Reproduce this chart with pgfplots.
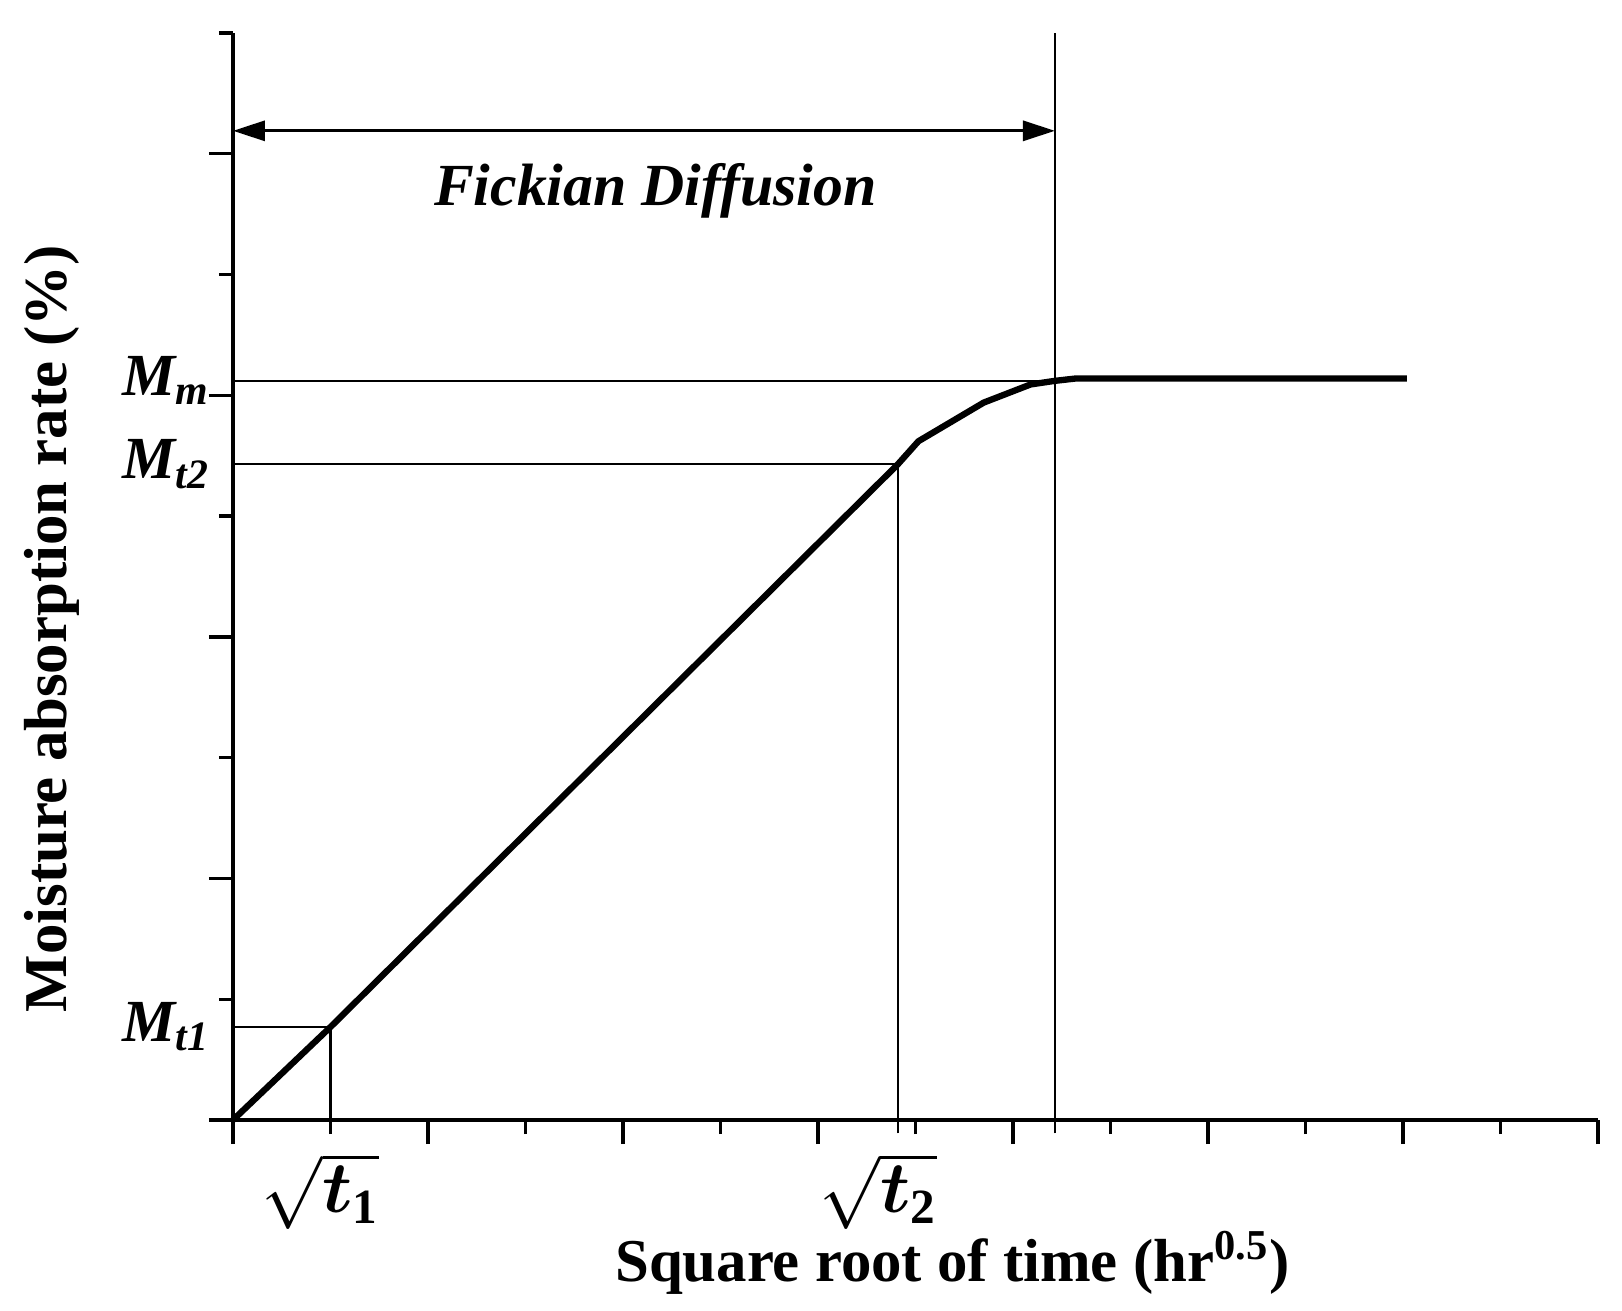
\documentclass[border=0pt]{standalone}
\usepackage{pgfplots}
\pgfplotsset{compat=1.18}
\usepackage{fontspec}
\setmainfont{Liberation Serif}
\usepackage{bm}
\usetikzlibrary{arrows.meta}

\begin{document}
\begin{tikzpicture}
% frame of the whole picture (same proportions as the reference)
\useasboundingbox (-2.33,-1.90) rectangle (13.89,11.20);
\begin{axis}[
    at={(0,0)}, anchor=south west,
    scale only axis,
    width=13.65cm, height=10.87cm,
    xmin=0, xmax=14,
    ymin=0, ymax=9,
    axis lines*=left,
    axis line style={line width=0.95pt},
    tick align=outside,
    tick style={line width=0.95pt, black},
    major tick length=0.24cm,
    minor tick length=0.14cm,
    xtick={0,2,...,14}, minor xtick={1,3,...,13},
    ytick={0,2,...,8}, minor ytick={1,3,...,9},
    xticklabels={}, yticklabels={},
    extra x ticks={1,6.82},
    extra x tick labels={\hspace*{-0.2cm}$\sqrt{\bm{t}_{\mathbf{1}}}$, \hspace*{-0.4cm}$\sqrt{\bm{t}_{\mathbf{2}}}$},
    extra x tick style={major tick length=0pt,
        tick label style={font=\fontsize{20}{24}\selectfont, yshift=-6pt}},
    extra y ticks={0.77,5.43,6.12},
    extra y tick labels={\textbf{\textit{M\textsubscript{t1}}},
                         \textbf{\textit{M\textsubscript{t2}}},
                         \textbf{\textit{M\textsubscript{m}}}},
    extra y tick style={major tick length=0pt,
        tick label style={font=\fontsize{17}{20}\selectfont, xshift=-3pt}},
    xlabel={\textbf{Square root of time (hr\textsuperscript{0.5})}},
    ylabel={\textbf{Moisture absorption rate (\%)}},
    every axis x label/.style={at={(axis description cs:0.527,-0.131)}, anchor=center,
        font=\fontsize{17.3}{20}\selectfont},
    every axis y label/.style={at={(axis description cs:-0.133,0.452)}, anchor=center, rotate=90,
        font=\fontsize{17.3}{20}\selectfont},
    clip=false,
]

% guide lines
\addplot[black, line width=0.6pt] coordinates {(0,6.12) (8.43,6.12)};
\addplot[black, line width=0.6pt] coordinates {(0,5.43) (6.82,5.43)};
\addplot[black, line width=0.6pt] coordinates {(0,0.77) (1,0.77)};
\addplot[black, line width=0.6pt] coordinates {(1,-0.11) (1,0.77)};
\addplot[black, line width=0.6pt] coordinates {(6.82,-0.11) (6.82,5.43)};
\addplot[black, line width=0.6pt] coordinates {(8.43,-0.11) (8.43,9)};

% Fickian diffusion span
\addplot[black, line width=0.9pt,
    {Triangle[length=3.2mm,width=2mm]}-{Triangle[length=3.2mm,width=2mm]}]
    coordinates {(0,8.19) (8.43,8.19)};
\node[font=\fontsize{17}{20}\selectfont\bfseries\itshape] at (axis cs:4.33,7.69) {Fickian Diffusion};

% absorption curve
\addplot[black, line width=1.8pt, line join=round] coordinates {
    (0,0) (1,0.77) (6.82,5.43) (7.03,5.62) (7.70,5.94)
    (8.18,6.09) (8.43,6.12) (8.65,6.14) (12.04,6.14)
};

\end{axis}
\end{tikzpicture}
\end{document}
